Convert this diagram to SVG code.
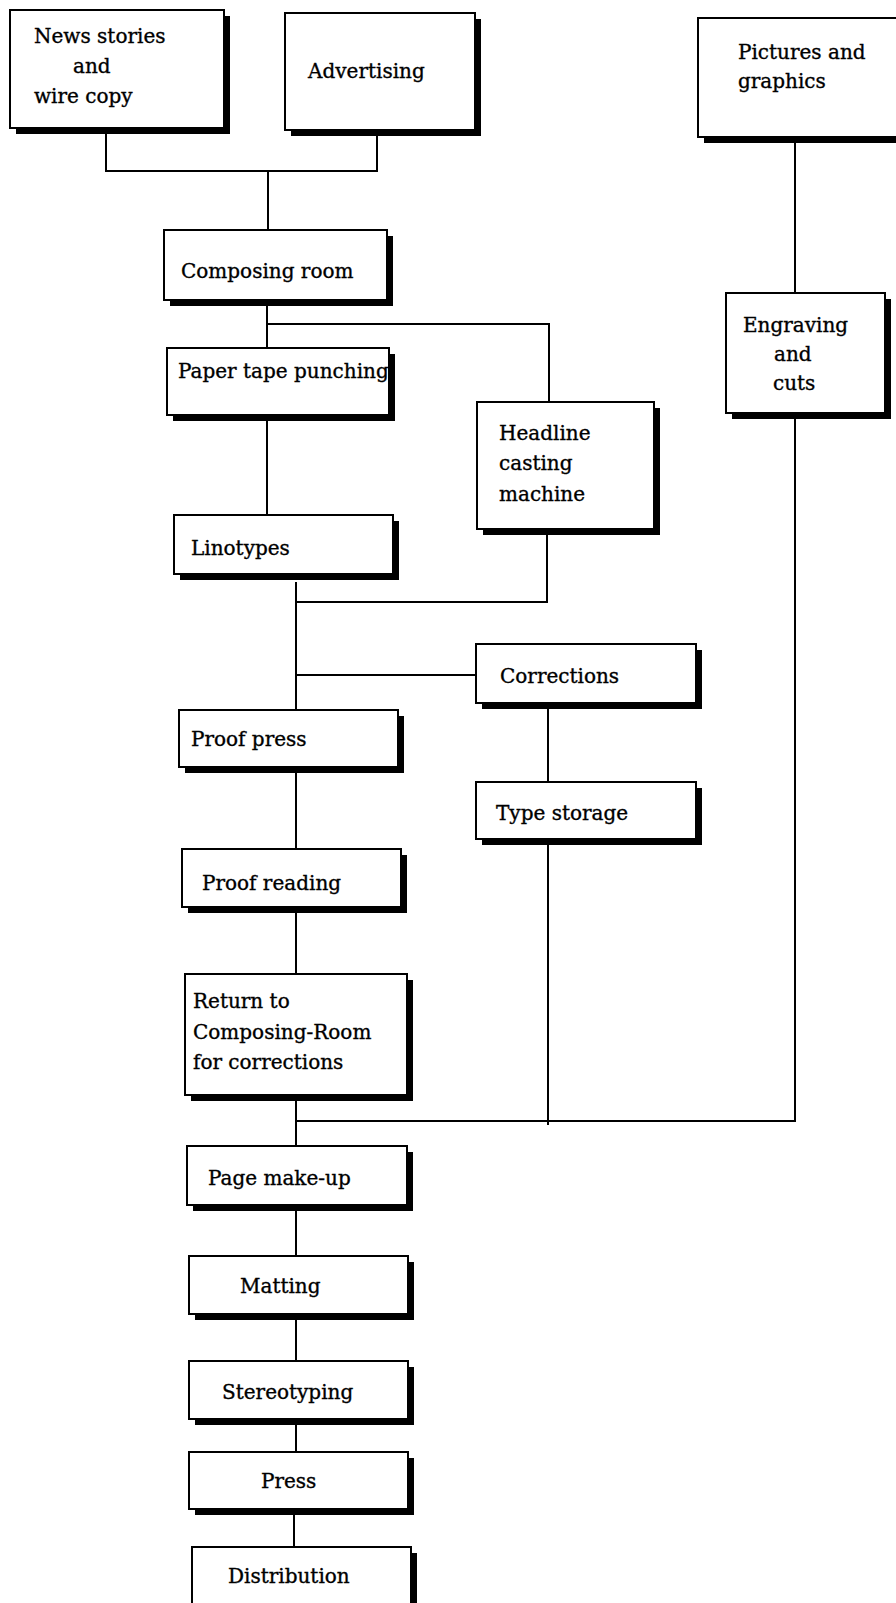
<svg xmlns="http://www.w3.org/2000/svg" width="896" height="1603" viewBox="0 0 896 1603">
  <style>
    .shadow { fill: #000; }
    .box { fill: #fff; stroke: #000; stroke-width: 2; }
    .lbl { font-family: "DejaVu Serif", "Liberation Serif", serif; font-size: 20px; fill: #000; stroke: #000; stroke-width: 0.35; }
    .wire { stroke: #000; stroke-width: 2; fill: none; stroke-linecap: square; }
  </style>
  <rect width="896" height="1603" fill="#fff"/>

  <!-- connectors -->
  <g id="connectors" class="wire">
    <path d="M106 128 V171 H377 V130"/>
    <path d="M268 171 V230"/>
    <path d="M267 300 V348"/>
    <path d="M267 324 H549 V402"/>
    <path d="M267 415 V515"/>
    <path d="M547 529 V602 H296"/>
    <path d="M296 583 V710"/>
    <path d="M296 675 H476"/>
    <path d="M296 767 V849"/>
    <path d="M548 703 V782"/>
    <path d="M296 907 V974"/>
    <path d="M548 839 V1124"/>
    <path d="M795 137 V293"/>
    <path d="M795 415 V1121 H296"/>
    <path d="M296 1095 V1146"/>
    <path d="M296 1205 V1256"/>
    <path d="M296 1314 V1361"/>
    <path d="M296 1419 V1452"/>
    <path d="M294 1509 V1547"/>
  </g>

  <g id="news">
    <rect class="shadow" x="16" y="16" width="214" height="118"/>
    <rect class="box" x="10" y="10" width="214" height="118"/>
    <text class="lbl" x="34" y="43">News stories</text>
    <text class="lbl" x="73" y="73">and</text>
    <text class="lbl" x="34" y="103">wire copy</text>
  </g>

  <g id="advertising">
    <rect class="shadow" x="291" y="19" width="190" height="117"/>
    <rect class="box" x="285" y="13" width="190" height="117"/>
    <text class="lbl" x="308" y="78">Advertising</text>
  </g>

  <g id="pictures">
    <rect class="shadow" x="704" y="24" width="210" height="119"/>
    <rect class="box" x="698" y="18" width="210" height="119"/>
    <text class="lbl" x="738" y="59">Pictures and</text>
    <text class="lbl" x="738" y="88">graphics</text>
  </g>

  <g id="composing">
    <rect class="shadow" x="170" y="236" width="223" height="70"/>
    <rect class="box" x="164" y="230" width="223" height="70"/>
    <text class="lbl" x="181" y="278">Composing room</text>
  </g>

  <g id="engraving">
    <rect class="shadow" x="732" y="299" width="159" height="120"/>
    <rect class="box" x="726" y="293" width="159" height="120"/>
    <text class="lbl" x="743" y="332">Engraving</text>
    <text class="lbl" x="774" y="361">and</text>
    <text class="lbl" x="773" y="390">cuts</text>
  </g>

  <g id="paper-tape">
    <rect class="shadow" x="173" y="354" width="222" height="67"/>
    <rect class="box" x="167" y="348" width="222" height="67"/>
    <text class="lbl" x="178" y="378">Paper tape punching</text>
  </g>

  <g id="headline">
    <rect class="shadow" x="483" y="408" width="177" height="127"/>
    <rect class="box" x="477" y="402" width="177" height="127"/>
    <text class="lbl" x="499" y="440">Headline</text>
    <text class="lbl" x="499" y="470">casting</text>
    <text class="lbl" x="499" y="501">machine</text>
  </g>

  <g id="linotypes">
    <rect class="shadow" x="180" y="521" width="219" height="59"/>
    <rect class="box" x="174" y="515" width="219" height="59"/>
    <text class="lbl" x="191" y="555">Linotypes</text>
  </g>

  <g id="corrections">
    <rect class="shadow" x="482" y="650" width="220" height="59"/>
    <rect class="box" x="476" y="644" width="220" height="59"/>
    <text class="lbl" x="500" y="683">Corrections</text>
  </g>

  <g id="proof-press">
    <rect class="shadow" x="185" y="716" width="219" height="57"/>
    <rect class="box" x="179" y="710" width="219" height="57"/>
    <text class="lbl" x="191" y="746">Proof press</text>
  </g>

  <g id="type-storage">
    <rect class="shadow" x="482" y="788" width="220" height="57"/>
    <rect class="box" x="476" y="782" width="220" height="57"/>
    <text class="lbl" x="496" y="820">Type storage</text>
  </g>

  <g id="proof-reading">
    <rect class="shadow" x="188" y="855" width="219" height="58"/>
    <rect class="box" x="182" y="849" width="219" height="58"/>
    <text class="lbl" x="202" y="890">Proof reading</text>
  </g>

  <g id="return">
    <rect class="shadow" x="191" y="980" width="222" height="121"/>
    <rect class="box" x="185" y="974" width="222" height="121"/>
    <text class="lbl" x="193" y="1008">Return to</text>
    <text class="lbl" x="193" y="1039">Composing-Room</text>
    <text class="lbl" x="193" y="1069">for corrections</text>
  </g>

  <g id="page-makeup">
    <rect class="shadow" x="193" y="1152" width="220" height="59"/>
    <rect class="box" x="187" y="1146" width="220" height="59"/>
    <text class="lbl" x="208" y="1185">Page make-up</text>
  </g>

  <g id="matting">
    <rect class="shadow" x="195" y="1262" width="219" height="58"/>
    <rect class="box" x="189" y="1256" width="219" height="58"/>
    <text class="lbl" x="240" y="1293">Matting</text>
  </g>

  <g id="stereotyping">
    <rect class="shadow" x="195" y="1367" width="219" height="58"/>
    <rect class="box" x="189" y="1361" width="219" height="58"/>
    <text class="lbl" x="222" y="1399">Stereotyping</text>
  </g>

  <g id="press">
    <rect class="shadow" x="195" y="1458" width="219" height="57"/>
    <rect class="box" x="189" y="1452" width="219" height="57"/>
    <text class="lbl" x="261" y="1488">Press</text>
  </g>

  <g id="distribution">
    <rect class="shadow" x="198" y="1553" width="219" height="70"/>
    <rect class="box" x="192" y="1547" width="219" height="70"/>
    <text class="lbl" x="228" y="1583">Distribution</text>
  </g>
</svg>
